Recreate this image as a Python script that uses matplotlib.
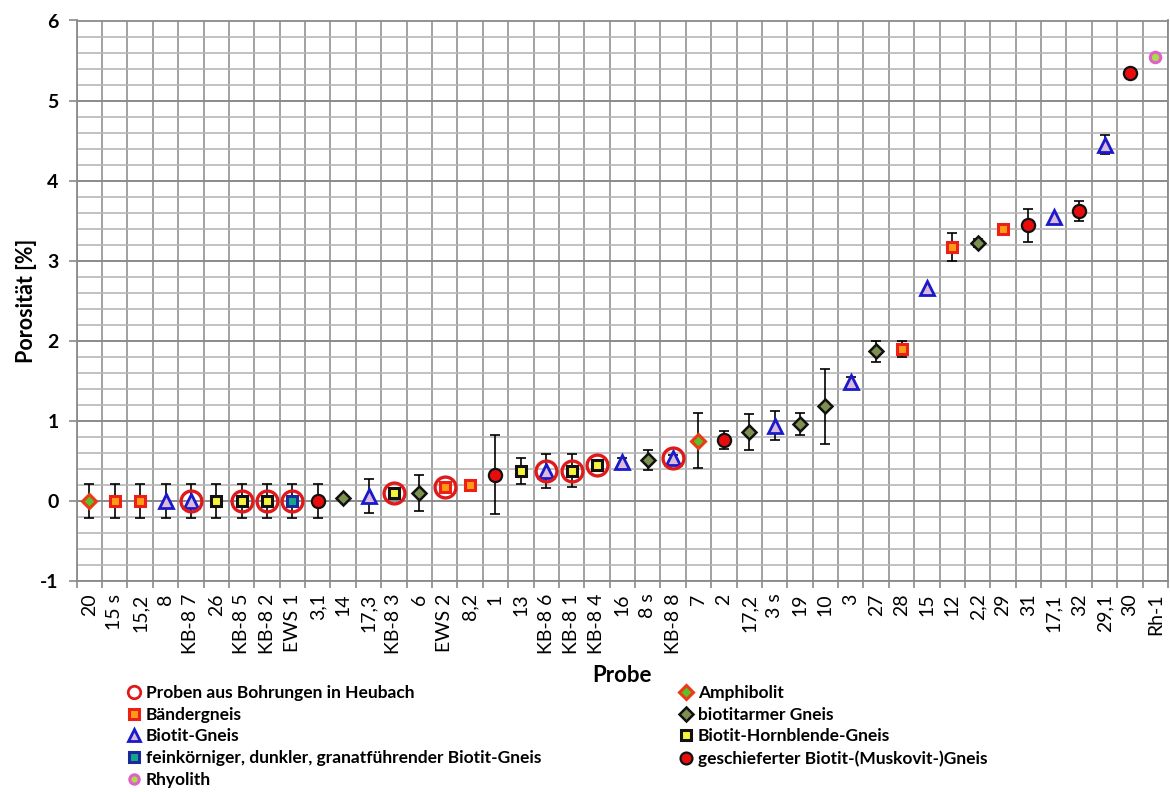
import numpy as np
import matplotlib
matplotlib.use("Agg")
import matplotlib.pyplot as plt
from matplotlib.lines import Line2D

plt.rcParams['font.family'] = ['Lato', 'DejaVu Sans']

# Samples, sorted by porosity
samples = ["20", "15 s", "15,2", "8", "KB-8 7", "26", "KB-8 5", "KB-8 2", "EWS 1", "3,1",
           "14", "17,3", "KB-8 3", "6", "EWS 2", "8,2", "1", "13", "KB-8 6", "KB-8 1",
           "KB-8 4", "16", "8 s", "KB-8 8", "7", "2", "17,2", "3 s", "19", "10",
           "3", "27", "28", "15", "12", "2,2", "29", "31", "17,1", "32",
           "29,1", "30", "Rh-1"]

porosity = [0.00, 0.00, 0.00, 0.00, 0.00, 0.00, 0.00, 0.00, 0.00, 0.00,
            0.04, 0.06, 0.10, 0.10, 0.17, 0.20, 0.33, 0.37, 0.37, 0.38,
            0.45, 0.48, 0.51, 0.53, 0.75, 0.76, 0.86, 0.94, 0.96, 1.18,
            1.48, 1.87, 1.90, 2.66, 3.17, 3.22, 3.40, 3.44, 3.54, 3.62,
            4.45, 5.35, 5.54]

error = [0.21, 0.21, 0.21, 0.21, 0.21, 0.21, 0.21, 0.21, 0.21, 0.21,
         0.00, 0.21, 0.03, 0.23, 0.03, 0.00, 0.49, 0.16, 0.21, 0.20,
         0.04, 0.06, 0.12, 0.04, 0.345, 0.11, 0.22, 0.18, 0.14, 0.47,
         0.07, 0.13, 0.10, 0.00, 0.17, 0.05, 0.00, 0.21, 0.00, 0.13,
         0.12, 0.00, 0.00]

# Rock type of each sample
rock = ["Amphibolit", "Bändergneis", "Bändergneis", "Biotit-Gneis", "Biotit-Gneis",
        "Biotit-Hornblende-Gneis", "Biotit-Hornblende-Gneis", "Biotit-Hornblende-Gneis",
        "feinkörniger, dunkler, granatführender Biotit-Gneis",
        "geschieferter Biotit-(Muskovit-)Gneis",
        "biotitarmer Gneis", "Biotit-Gneis", "Biotit-Hornblende-Gneis", "biotitarmer Gneis",
        "Bändergneis", "Bändergneis", "geschieferter Biotit-(Muskovit-)Gneis",
        "Biotit-Hornblende-Gneis", "Biotit-Gneis", "Biotit-Hornblende-Gneis",
        "Biotit-Hornblende-Gneis", "Biotit-Gneis", "biotitarmer Gneis", "Biotit-Gneis",
        "Amphibolit", "geschieferter Biotit-(Muskovit-)Gneis", "biotitarmer Gneis",
        "Biotit-Gneis", "biotitarmer Gneis", "biotitarmer Gneis",
        "Biotit-Gneis", "biotitarmer Gneis", "Bändergneis", "Biotit-Gneis", "Bändergneis",
        "biotitarmer Gneis", "Bändergneis", "geschieferter Biotit-(Muskovit-)Gneis",
        "Biotit-Gneis", "geschieferter Biotit-(Muskovit-)Gneis",
        "Biotit-Gneis", "geschieferter Biotit-(Muskovit-)Gneis", "Rhyolith"]

# Samples from the Heubach boreholes
borehole = ["KB-8 7", "KB-8 5", "KB-8 2", "EWS 1", "KB-8 3", "EWS 2",
            "KB-8 6", "KB-8 1", "KB-8 4", "KB-8 8"]

styles = {
    "Amphibolit": dict(marker="D", ms=7.5, mfc="#5cc02c", mec="#ec3a16", mew=2.2),
    "Bändergneis": dict(marker="s", ms=7.5, mfc="#ff9a16", mec="#ee2016", mew=2.2),
    "Biotit-Gneis": dict(marker="^", ms=9.5, mfc="#dcbadc", mec="#1a1acc", mew=2.0),
    "Biotit-Hornblende-Gneis": dict(marker="s", ms=7.5, mfc="#f6f43a", mec="#111111", mew=2.2),
    "biotitarmer Gneis": dict(marker="D", ms=7.5, mfc="#7d9050", mec="#111111", mew=1.8),
    "feinkörniger, dunkler, granatführender Biotit-Gneis":
        dict(marker="s", ms=7.5, mfc="#14a88a", mec="#1a2a9a", mew=2.2),
    "geschieferter Biotit-(Muskovit-)Gneis":
        dict(marker="o", ms=9.5, mfc="#e80c0c", mec="#111111", mew=1.6),
    "Rhyolith": dict(marker="o", ms=7.5, mfc="#a8dc48", mec="#e060c8", mew=2.2),
}

fig = plt.figure(figsize=(11.7, 7.92), dpi=100)
ax = fig.add_axes([76.7 / 1170, 1 - 581 / 792, (1168 - 76.7) / 1170, (581 - 20.5) / 792])

x = np.arange(len(samples))
y = np.array(porosity)
err = np.array(error)

# Error bars
has_err = err > 0
ax.errorbar(x[has_err], y[has_err], yerr=err[has_err], fmt="none", ecolor="black",
            elinewidth=1.2, capsize=3.8, capthick=1.2, zorder=3)

# Markers per rock type
for xi, yi, r in zip(x, y, rock):
    ax.plot(xi, yi, linestyle="none", zorder=4, **styles[r])

# Borehole rings
bx = [samples.index(s) for s in borehole]
ax.plot(bx, y[bx], linestyle="none", marker="o", ms=15, mfc="none", mec="#e01a1a",
        mew=2.4, zorder=5)

# Axes, grid and ticks
ax.set_xlim(-0.5, len(samples) - 0.5)
ax.set_ylim(-1, 6)
ax.set_yticks(np.arange(-1, 7, 1))
ax.set_yticks(np.arange(-1, 6.01, 0.2), minor=True)
ax.set_xticks(x)
ax.set_xticks(np.arange(-0.5, len(samples), 1), minor=True)
ax.set_xticklabels(samples, rotation=90, fontsize=14)
ax.set_yticklabels([str(v) for v in range(-1, 7)], fontsize=14, fontweight="bold")

ax.grid(False)
ax.yaxis.grid(True, which="major", color="#8a8a8a", linewidth=1.4, zorder=0)
ax.yaxis.grid(True, which="minor", color="#b8b8b8", linewidth=1.2, zorder=0)
ax.xaxis.grid(True, which="minor", color="#9a9a9a", linewidth=1.3, zorder=0)
ax.set_axisbelow(True)

ax.tick_params(axis="x", which="major", length=0, pad=9)
ax.tick_params(axis="x", which="minor", length=5, width=1.2, color="#8a8a8a", direction="out")
ax.tick_params(axis="y", which="major", length=6, width=1.2, color="#8a8a8a", pad=7)
ax.tick_params(axis="y", which="minor", length=0)

for side in ["top", "right", "bottom", "left"]:
    ax.spines[side].set_color("#8a8a8a")
    ax.spines[side].set_linewidth(1.3)

ax.set_ylabel("Porosität [%]", fontsize=15.5, fontweight="bold", labelpad=2)
ax.set_xlabel("Probe", fontsize=16, fontweight="bold", labelpad=8)

# Legend in two columns
def handle(r, label):
    st = dict(styles[r])
    st["ms"] = st["ms"] * 0.9
    return Line2D([], [], linestyle="none", label=label, **st)

ring = Line2D([], [], linestyle="none", marker="o", ms=9, mfc="none", mec="#e01a1a",
              mew=2.0, label="Proben aus Bohrungen in Heubach")
left = [ring, handle("Bändergneis", "Bändergneis"), handle("Biotit-Gneis", "Biotit-Gneis"),
        handle("feinkörniger, dunkler, granatführender Biotit-Gneis",
               "feinkörniger, dunkler, granatführender Biotit-Gneis"),
        handle("Rhyolith", "Rhyolith")]
right = [handle("Amphibolit", "Amphibolit"),
         handle("biotitarmer Gneis", "biotitarmer Gneis"),
         handle("Biotit-Hornblende-Gneis", "Biotit-Hornblende-Gneis"),
         handle("geschieferter Biotit-(Muskovit-)Gneis",
                "geschieferter Biotit-(Muskovit-)Gneis")]

leg_kw = dict(loc="upper left", frameon=False, handlelength=0.8, handletextpad=0.3,
              labelspacing=0.33, borderpad=0, borderaxespad=0,
              prop={"size": 12.5, "weight": "bold"})
fig.legend(handles=left, bbox_to_anchor=(127 / 1170, 1 - 685 / 792), **leg_kw)
fig.legend(handles=right, bbox_to_anchor=(679 / 1170, 1 - 685 / 792), **leg_kw)

fig.savefig("out.png", dpi=100)
